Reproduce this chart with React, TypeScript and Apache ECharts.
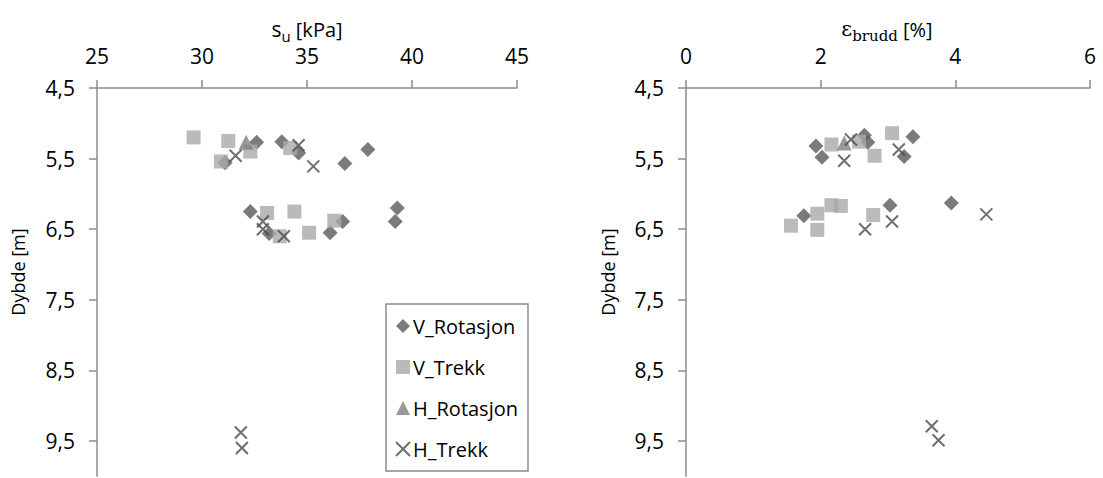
import React, { useEffect, useRef } from 'react';
import * as echarts from 'echarts';

// ---- data ----
const seriesNames = ['V_Rotasjon', 'V_Trekk', 'H_Rotasjon', 'H_Trekk'];

// left chart: [s_u kPa, depth m]
const suVRotasjon: number[][] = [
  [31.1, 5.56], [32.6, 5.27], [33.8, 5.26], [34.6, 5.42], [36.8, 5.57], [37.9, 5.37],
  [32.3, 6.25], [33.2, 6.56], [36.7, 6.39], [36.1, 6.55], [39.3, 6.2], [39.2, 6.39],
];
const suVTrekk: number[][] = [
  [29.6, 5.2], [31.25, 5.25], [30.9, 5.54], [32.3, 5.4], [34.2, 5.35],
  [33.1, 6.27], [33.7, 6.6], [34.4, 6.25], [35.1, 6.55], [36.3, 6.38],
];
const suHRotasjon: number[][] = [[32.1, 5.27]];
const suHTrekk: number[][] = [
  [31.6, 5.46], [34.6, 5.31], [35.3, 5.61], [32.9, 6.39], [32.9, 6.5], [33.9, 6.6],
  [31.85, 9.38], [31.9, 9.6],
];

// right chart: [eps_brudd %, depth m]
const epsVRotasjon: number[][] = [
  [1.93, 5.32], [2.02, 5.48], [2.65, 5.17], [2.7, 5.27], [3.37, 5.19], [3.24, 5.47],
  [1.75, 6.31], [3.03, 6.16], [3.94, 6.13],
];
const epsVTrekk: number[][] = [
  [2.16, 5.3], [2.57, 5.26], [2.8, 5.46], [3.06, 5.14],
  [1.56, 6.45], [1.95, 6.28], [1.95, 6.51], [2.16, 6.16], [2.3, 6.17], [2.78, 6.3],
];
const epsHRotasjon: number[][] = [[2.35, 5.28]];
const epsHTrekk: number[][] = [
  [2.45, 5.23], [2.35, 5.53], [3.16, 5.37], [2.66, 6.5], [3.06, 6.39], [4.46, 6.29],
  [3.65, 9.29], [3.75, 9.49],
];

const suAxis = { min: 25, max: 45, interval: 5 };
const epsAxis = { min: 0, max: 6, interval: 2 };
const depthAxis = { min: 4.5, max: 10, interval: 1 };

// ---- styling ----
const SANS = 'Open Sans';
const SERIF = 'DejaVu Serif';
const AXIS_COLOR = '#8c8c8c';

const measure = (t: string, font: string) => {
  const ctx = document.createElement('canvas').getContext('2d');
  if (!ctx) return t.length * 9;
  ctx.font = font;
  return ctx.measureText(t).width;
};

type Part = { t: string; size: number; family: string; dy: number };
const titleParts = (parts: Part[], cx: number, cy: number) => {
  const widths = parts.map((p) => measure(p.t, `${p.size}px "${p.family}"`));
  const total = widths.reduce((a, b) => a + b, 0);
  let x = cx - total / 2;
  return parts.map((p, i) => {
    const el = {
      type: 'text',
      x,
      y: cy + p.dy,
      silent: true,
      style: {
        text: p.t,
        fontSize: p.size,
        fontFamily: p.family,
        fill: '#000',
        align: 'left',
        verticalAlign: 'middle',
      },
    };
    x += widths[i];
    return el;
  });
};

const depthFmt = (v: number) => v.toFixed(1).replace('.', ',');

const symbolX = 'path://M0,0L12,12M0,12L12,0';

const makeSeries = (idx: number, data: number[][][]) => {
  const common = { type: 'scatter', xAxisIndex: idx, yAxisIndex: idx };
  return [
    { ...common, name: seriesNames[0], data: data[0], symbol: 'diamond', symbolSize: [15, 15], itemStyle: { color: '#5a5a5a' } },
    { ...common, name: seriesNames[1], data: data[1], symbol: 'rect', symbolSize: 14, itemStyle: { color: '#a9a9a9' } },
    { ...common, name: seriesNames[2], data: data[2], symbol: 'triangle', symbolSize: 15, itemStyle: { color: '#7f7f7f' } },
    {
      ...common, name: seriesNames[3], data: data[3], symbol: symbolX, symbolSize: 12,
      itemStyle: { color: 'rgba(0,0,0,0)', borderColor: '#4a4a4a', borderWidth: 2 },
    },
  ];
};

const xAxisBase = (idx: number, a: { min: number; max: number; interval: number }) => ({
  type: 'value',
  gridIndex: idx,
  position: 'top',
  min: a.min,
  max: a.max,
  interval: a.interval,
  axisLine: { show: true, onZero: false, lineStyle: { color: AXIS_COLOR, width: 1.5 } },
  axisTick: { show: true, inside: false, length: 8, lineStyle: { color: AXIS_COLOR, width: 1.5 } },
  axisLabel: { margin: 22, fontSize: 21, fontFamily: SANS, color: '#000' },
  splitLine: { show: false },
});

const yAxisBase = (idx: number) => ({
  type: 'value',
  gridIndex: idx,
  inverse: true,
  min: depthAxis.min,
  max: depthAxis.max,
  interval: depthAxis.interval,
  axisLine: { show: true, onZero: false, lineStyle: { color: AXIS_COLOR, width: 1.5 } },
  axisTick: { show: true, inside: false, length: 8, lineStyle: { color: AXIS_COLOR, width: 1.5 } },
  axisLabel: { margin: 22, fontSize: 21, fontFamily: SANS, color: '#000', showMaxLabel: false, formatter: depthFmt },
  splitLine: { show: false },
});

export default function App() {
  const ref = useRef<HTMLDivElement>(null);
  useEffect(() => {
    if (!ref.current) return;
    const chart = echarts.init(ref.current, undefined, { renderer: 'svg' });
    const grids = [
      { left: 97, top: 88, width: 420, height: 388.3 },
      { left: 686, top: 88, width: 404, height: 388.3 },
    ];
    const graphic: any[] = [
      ...titleParts(
        [
          { t: 's', size: 21, family: SANS, dy: 0 },
          { t: 'u', size: 15, family: SANS, dy: 7 },
          { t: ' [kPa]', size: 20, family: SANS, dy: 0 },
        ],
        307, 29,
      ),
      ...titleParts(
        [
          { t: 'ε', size: 21, family: SERIF, dy: 0 },
          { t: 'brudd', size: 15, family: SERIF, dy: 7 },
          { t: ' [%]', size: 20, family: SANS, dy: 0 },
        ],
        887, 29,
      ),
      {
        type: 'text', x: 18, y: 272, rotation: Math.PI / 2, silent: true,
        style: { text: 'Dybde [m]', fontSize: 18, fontFamily: SANS, fill: '#000', align: 'center', verticalAlign: 'middle' },
      },
      {
        type: 'text', x: 608, y: 272, rotation: Math.PI / 2, silent: true,
        style: { text: 'Dybde [m]', fontSize: 18, fontFamily: SANS, fill: '#000', align: 'center', verticalAlign: 'middle' },
      },
    ];
    chart.setOption({
      animation: false,
      backgroundColor: '#fff',
      grid: grids,
      xAxis: [xAxisBase(0, suAxis), xAxisBase(1, epsAxis)],
      yAxis: [yAxisBase(0), yAxisBase(1)],
      legend: {
        data: seriesNames,
        orient: 'vertical',
        left: 386,
        top: 304,
        itemWidth: 14,
        itemHeight: 14,
        itemGap: 21,
        padding: [12, 10, 12, 9],
        borderColor: AXIS_COLOR,
        borderWidth: 1.5,
        textStyle: { fontSize: 20, fontFamily: SANS, color: '#000', padding: [0, 0, 0, -2] },
      },
      graphic,
      series: [
        ...makeSeries(0, [suVRotasjon, suVTrekk, suHRotasjon, suHTrekk]),
        ...makeSeries(1, [epsVRotasjon, epsVTrekk, epsHRotasjon, epsHTrekk]),
      ],
    });
    return () => chart.dispose();
  }, []);
  return (
    <div
      ref={ref}
      style={{ position: 'absolute', left: 0, top: 0, width: 1103, height: 478, background: '#fff' }}
    />
  );
}
